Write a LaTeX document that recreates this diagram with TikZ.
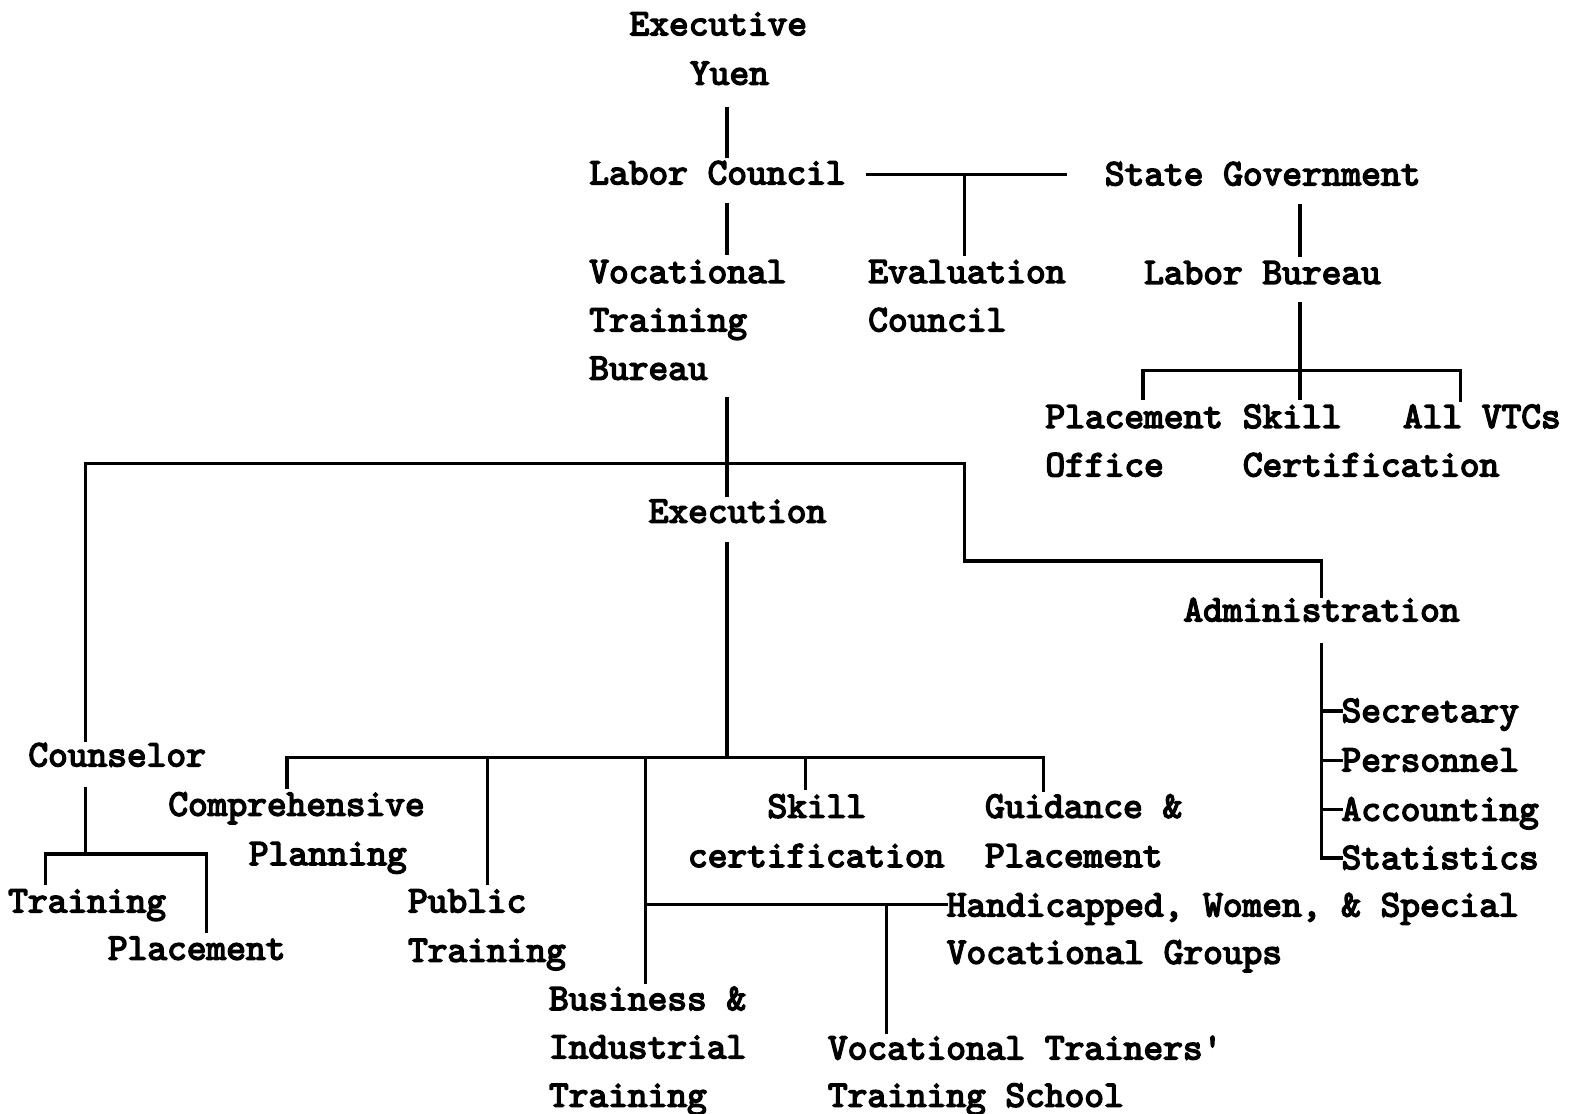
\documentclass[tikz,border=0pt]{standalone}
\usepackage{fontspec}
\newfontfamily\twbold{lmmono10-regular}[Extension=.otf, FakeBold=4]
\begin{document}
\begin{tikzpicture}[x=1pt,y=-1pt,
  lbl/.style={inner sep=0pt, anchor=base west, font=\fontsize{37.3}{48}\selectfont\twbold},
  conn/.style={line width=3.3pt, line cap=rect}]
\useasboundingbox (0,0) rectangle (1568,1106);
% texts
\node[lbl] (ey1) at (625,35) {Executive};
\node[lbl] (ey2) at (685,84) {Yuen};
\node[lbl] (lc) at (585,183) {Labor Council};
\node[lbl] (sg) at (1097,184) {State Government};
\node[lbl] (vtb1) at (585,281) {Vocational};
\node[lbl] (vtb2) at (585,329) {Training};
\node[lbl] (vtb3) at (585,377) {Bureau};
\node[lbl] (ec1) at (862,281) {Evaluation};
\node[lbl] (ec2) at (862,329) {Council};
\node[lbl] (lb) at (1136,282) {Labor Bureau};
\node[lbl] (po1) at (1038,425) {Placement};
\node[lbl] (po2) at (1038,473) {Office};
\node[lbl] (sc1) at (1234,425) {Skill};
\node[lbl] (sc2) at (1234,473) {Certification};
\node[lbl] (vtc) at (1393,425) {All VTCs};
\node[lbl] (exe) at (644,519) {Execution};
\node[lbl] (adm) at (1175,617) {Administration};
\node[lbl] (sec) at (1332,717) {Secretary};
\node[lbl] (per) at (1332,766) {Personnel};
\node[lbl] (acc) at (1332,815) {Accounting};
\node[lbl] (sta) at (1332,863) {Statistics};
\node[lbl] (cou) at (28,761) {Counselor};
\node[lbl] (cp1) at (167,810) {Comprehensive};
\node[lbl] (cp2) at (247,859) {Planning};
\node[lbl] (sk1) at (762,812) {Skill};
\node[lbl] (sk2) at (683,861) {certification};
\node[lbl] (gp1) at (978,812) {Guidance \&};
\node[lbl] (gp2) at (978,861) {Placement};
\node[lbl] (tr) at (8,906) {Training};
\node[lbl] (pl) at (107,953) {Placement};
\node[lbl] (pt1) at (405,906) {Public};
\node[lbl] (pt2) at (405,955) {Training};
\node[lbl] (hw1) at (940,910) {Handicapped, Women, \& Special};
\node[lbl] (hw2) at (940,957) {Vocational Groups};
\node[lbl] (bi1) at (545,1003) {Business \&};
\node[lbl] (bi2) at (545,1051) {Industrial};
\node[lbl] (bi3) at (545,1099) {Training};
\node[lbl] (vt1) at (822,1052) {Vocational Trainers'};
\node[lbl] (vt2) at (822,1099) {Training School};
% junction coordinates
\coordinate (jLC) at (958,173);
\coordinate (jLB) at (1291,368);
\coordinate (jVTB) at (722,460);
\coordinate (jAdm) at (958,557);
\coordinate (jCou) at (85,848);
\coordinate (jExe) at (722,752);
\coordinate (jBI) at (641,898);
% connectors
\draw[conn] (722,108) -- (722,155);
\draw[conn] (722,203) -- (722,252);
\draw[conn] (862,173) -- (1058,173);
\draw[conn] (jLC) -- (958,253);
\draw[conn] (1291,204) -- (1291,254);
\draw[conn] (1291,302) -- (1291,396);
\draw[conn] (1135,396) -- (1135,368) -- (1450,368) -- (1450,398);
\draw[conn] (722,396) -- (722,492);
\draw[conn] (85,735) -- (85,460) -- (958,460) -- (jAdm) -- (1312,557) -- (1312,592);
\draw[conn] (85,783) -- (jCou);
\draw[conn] (45,877) -- (45,848) -- (205,848) -- (205,925);
\draw[conn] (722,540) -- (jExe);
\draw[conn] (285,782) -- (285,752) -- (1036,752) -- (1036,785);
\draw[conn] (484,752) -- (484,877);
\draw[conn] (641,752) -- (641,975);
\draw[conn] (800,752) -- (800,783);
\draw[conn] (jBI) -- (940,898);
\draw[conn] (880,898) -- (880,1025);
\draw[conn] (1312,640) -- (1312,852) -- (1332,852);
\draw[conn] (1312,706) -- (1332,706);
\draw[conn] (1312,755) -- (1332,755);
\draw[conn] (1312,804) -- (1332,804);
\end{tikzpicture}
\end{document}
